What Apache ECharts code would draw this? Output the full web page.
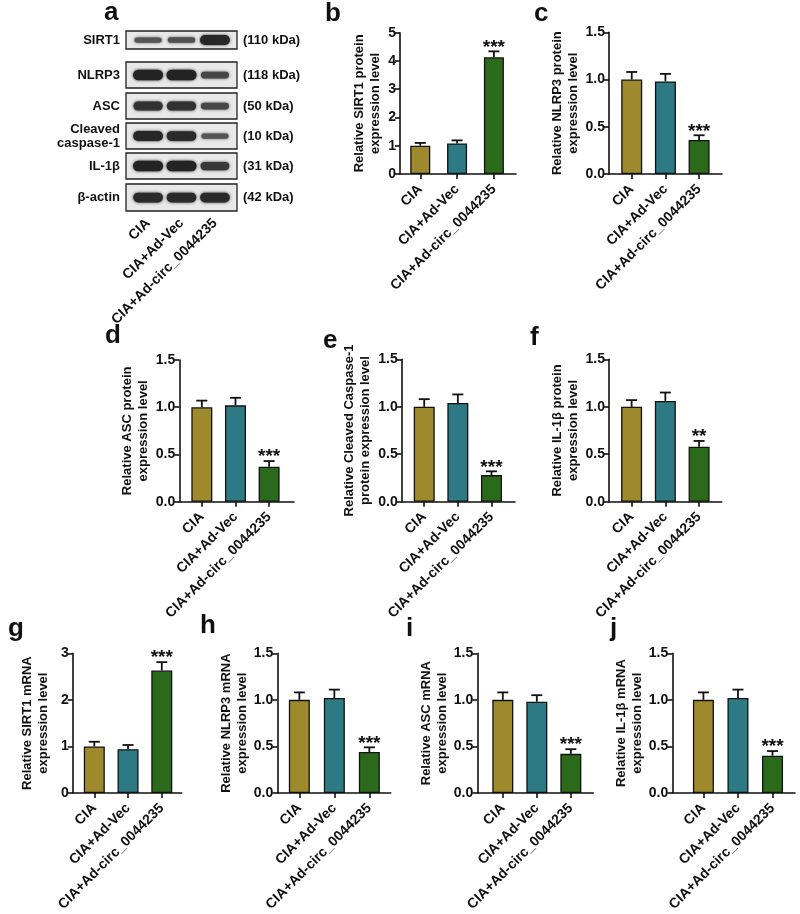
<!DOCTYPE html>
<html>
<head>
<meta charset="utf-8">
<script src="https://cdn.jsdelivr.net/npm/echarts@6/dist/echarts.min.js"></script>
<style>
html,body{margin:0;padding:0;background:#fff;}
#chart{width:800px;height:914px;}
</style>
</head>
<body>
<div id="chart"></div>
<script>
// ---------- data ----------
const groups = ['CIA', 'CIA+Ad-Vec', 'CIA+Ad-circ_0044235'];

// western blot (panel a)
const blotProteins = ['SIRT1', 'NLRP3', 'ASC', 'Cleaved\ncaspase-1', 'IL-1β', 'β-actin'];
const blotKda = ['(110 kDa)', '(118 kDa)', '(50 kDa)', '(10 kDa)', '(31 kDa)', '(42 kDa)'];
const bandSirt1 = [0.3, 0.35, 0.95];
const bandNlrp3 = [1.0, 1.0, 0.5];
const bandAsc = [0.8, 0.8, 0.5];
const bandCaspase1 = [0.95, 0.9, 0.3];
const bandIl1b = [1.0, 1.0, 0.7];
const bandActin = [0.9, 0.9, 0.9];

// protein levels (b-f)
const sirt1ProteinMean = [1.00, 1.08, 4.13];
const sirt1ProteinErr  = [0.10, 0.11, 0.21];
const nlrp3ProteinMean = [1.00, 0.98, 0.36];
const nlrp3ProteinErr  = [0.08, 0.08, 0.05];
const ascProteinMean   = [1.00, 1.02, 0.37];
const ascProteinErr    = [0.07, 0.08, 0.06];
const caspProteinMean  = [1.00, 1.04, 0.28];
const caspProteinErr   = [0.08, 0.09, 0.04];
const il1bProteinMean  = [1.00, 1.06, 0.58];
const il1bProteinErr   = [0.07, 0.09, 0.06];

// mRNA levels (g-j)
const sirt1MrnaMean = [1.00, 0.94, 2.63];
const sirt1MrnaErr  = [0.10, 0.09, 0.18];
const nlrp3MrnaMean = [1.00, 1.02, 0.44];
const nlrp3MrnaErr  = [0.08, 0.09, 0.05];
const ascMrnaMean   = [1.00, 0.98, 0.42];
const ascMrnaErr    = [0.08, 0.07, 0.05];
const il1bMrnaMean  = [1.00, 1.02, 0.40];
const il1bMrnaErr   = [0.08, 0.09, 0.05];

const sigB = ['', '', '***'];
const sigC = ['', '', '***'];
const sigD = ['', '', '***'];
const sigE = ['', '', '***'];
const sigF = ['', '', '**'];
const sigG = ['', '', '***'];
const sigH = ['', '', '***'];
const sigI = ['', '', '***'];
const sigJ = ['', '', '***'];

// ---------- styles / layout ----------
const FONT = '"Liberation Sans", Arial, Helvetica, sans-serif';
const barColors = ['#9e8a2c', '#2d7a84', '#2c6a1b'];
const INK = '#111';

const option = {
  animation: false,
  backgroundColor: '#fff',
  textStyle: { fontFamily: FONT },
  grid: [], xAxis: [], yAxis: [], series: [], graphic: []
};

function groupLabel(v) { return groups[Math.round(v)] || ''; }

// ---------- panel a: blot ----------
const blotBands = [bandSirt1, bandNlrp3, bandAsc, bandCaspase1, bandIl1b, bandActin];
const blotBoxes = [[31, 49], [62, 88], [93, 119], [123, 149], [153, 179], [184, 211]];
const blotLeft = 126, blotWidth = 111;

function bandRender(params, api) {
  const lane = api.value(0), inten = api.value(2);
  const p = api.coord([lane, 0]);
  const w = 26 + 4 * inten;
  const h = 3 + 7.5 * inten;
  const g = Math.round(105 - 70 * inten);
  const col = 'rgb(' + g + ',' + g + ',' + g + ')';
  return {
    type: 'rect',
    shape: { x: p[0] - w / 2, y: p[1] - h / 2, width: w, height: h, r: h / 2 },
    style: { fill: col, shadowBlur: 3, shadowColor: col }
  };
}

blotProteins.forEach(function (name, k) {
  const gi = option.grid.length;
  const last = k === blotProteins.length - 1;
  option.grid.push({
    left: blotLeft, top: blotBoxes[k][0], width: blotWidth,
    height: blotBoxes[k][1] - blotBoxes[k][0],
    show: true, backgroundColor: '#e8e8e8', borderColor: '#222', borderWidth: 1.3
  });
  const xi = option.xAxis.length;
  option.xAxis.push({
    type: 'value', gridIndex: gi, min: -0.66, max: 2.66,
    axisLine: { show: false }, axisTick: { show: false }, splitLine: { show: false },
    axisLabel: {
      show: last, customValues: [0, 1, 2], formatter: groupLabel, rotate: 45, margin: 10,
      fontSize: 14, fontWeight: 'bold', color: INK, fontFamily: FONT
    }
  });
  const yi = option.yAxis.length;
  option.yAxis.push({
    type: 'category', gridIndex: gi, data: [name],
    axisLine: { show: false }, axisTick: { show: false }, splitLine: { show: false },
    axisLabel: { fontSize: 13, fontWeight: 'bold', color: INK, margin: 6, lineHeight: 14, fontFamily: FONT }
  });
  option.yAxis.push({
    type: 'category', gridIndex: gi, data: [blotKda[k]], position: 'right',
    axisLine: { show: false }, axisTick: { show: false }, splitLine: { show: false },
    axisLabel: { fontSize: 13, fontWeight: 'bold', color: INK, margin: 6, fontFamily: FONT }
  });
  option.series.push({
    type: 'custom', xAxisIndex: xi, yAxisIndex: yi,
    data: blotBands[k].map(function (v, i) { return [i, 0, v]; }),
    encode: { x: 0, y: 1 },
    renderItem: bandRender, silent: true
  });
});

// ---------- bar panels ----------
function addBarPanel(L, axisName, means, errs, sigs) {
  const gi = option.grid.length;
  option.grid.push({ left: L.left, top: L.top, width: L.right - L.left, height: L.bottom - L.top });
  const xi = option.xAxis.length;
  option.xAxis.push({
    type: 'value', gridIndex: gi, min: L.xMin, max: L.xMax,
    axisLine: { show: true, onZero: false, lineStyle: { color: INK, width: 1.6 } },
    axisTick: { show: true, customValues: [0, 1, 2], length: 5, lineStyle: { color: INK, width: 1.6 } },
    splitLine: { show: false },
    axisLabel: {
      customValues: [0, 1, 2], formatter: groupLabel, rotate: 45, margin: 13,
      fontSize: 14, fontWeight: 'bold', color: INK, fontFamily: FONT
    }
  });
  const yi = option.yAxis.length;
  option.yAxis.push({
    type: 'value', gridIndex: gi, min: 0, max: L.yMax, interval: L.yInt,
    axisLine: { show: true, onZero: false, lineStyle: { color: INK, width: 1.6 } },
    axisTick: { show: true, length: 5, lineStyle: { color: INK, width: 1.6 } },
    splitLine: { show: false },
    axisLabel: {
      formatter: function (v) { return v.toFixed(L.dec); }, margin: 4,
      fontSize: 14, fontWeight: 'bold', color: INK, fontFamily: FONT
    },
    name: axisName, nameLocation: 'middle', nameGap: L.nameGap,
    nameTextStyle: { fontSize: 13, fontWeight: 'bold', lineHeight: 16, color: INK, fontFamily: FONT }
  });
  option.series.push({
    type: 'bar', xAxisIndex: xi, yAxisIndex: yi, barWidth: L.barWidth || 21,
    data: means.map(function (m, i) {
      return { value: [i, m], itemStyle: { color: barColors[i], borderColor: INK, borderWidth: 1.3 } };
    }),
    silent: true
  });
  option.series.push({
    type: 'custom', xAxisIndex: xi, yAxisIndex: yi, z: 5, silent: true,
    data: means.map(function (m, i) { return [i, m, errs[i]]; }),
    encode: { x: 0, y: 1 },
    renderItem: function (params, api) {
      const x = api.value(0), m = api.value(1), e = api.value(2);
      const b = api.coord([x, m]);
      const t = api.coord([x, m + e]);
      const children = [
        { type: 'line', shape: { x1: b[0], y1: b[1], x2: t[0], y2: t[1] }, style: { stroke: INK, lineWidth: 1.8 } },
        { type: 'line', shape: { x1: t[0] - 5.5, y1: t[1], x2: t[0] + 5.5, y2: t[1] }, style: { stroke: INK, lineWidth: 1.8 } }
      ];
      const s = sigs[params.dataIndex];
      if (s) {
        children.push({
          type: 'text', x: t[0], y: t[1] - 4,
          style: { text: s, font: 'bold 19px ' + FONT, fill: INK, align: 'center', verticalAlign: 'middle' }
        });
      }
      return { type: 'group', children: children };
    }
  });
}

const P15 = { yMax: 1.5, yInt: 0.5, dec: 1 };
function lay(o, base) { return Object.assign({}, base, o); }

addBarPanel(lay({ left: 400, right: 516, top: 32.7, bottom: 174, xMin: -0.55, xMax: 2.6, yMax: 5, yInt: 1, dec: 0, nameGap: 17, barWidth: 20 }, {}),
  'Relative SIRT1 protein\nexpression level', sirt1ProteinMean, sirt1ProteinErr, sigB);
addBarPanel(lay({ left: 609, right: 722, top: 32.3, bottom: 174, xMin: -0.675, xMax: 2.68, nameGap: 28 }, P15),
  'Relative NLRP3 protein\nexpression level', nlrp3ProteinMean, nlrp3ProteinErr, sigC);
addBarPanel(lay({ left: 179.3, right: 294, top: 360, bottom: 501.7, xMin: -0.67, xMax: 2.74, nameGap: 28 }, P15),
  'Relative ASC protein\nexpression level', ascProteinMean, ascProteinErr, sigD);
addBarPanel(lay({ left: 401.7, right: 515, top: 359.3, bottom: 501.7, xMin: -0.67, xMax: 2.70, nameGap: 28 }, P15),
  'Relative Cleaved Caspase-1\nprotein expression level', caspProteinMean, caspProteinErr, sigE);
addBarPanel(lay({ left: 609, right: 721.7, top: 359.3, bottom: 501.7, xMin: -0.67, xMax: 2.67, nameGap: 28 }, P15),
  'Relative IL-1β protein\nexpression level', il1bProteinMean, il1bProteinErr, sigF);
addBarPanel(lay({ left: 72.7, right: 181.7, top: 653.3, bottom: 795, xMin: -0.64, xMax: 2.59, yMax: 3, yInt: 1, dec: 0, nameGap: 21 }, {}),
  'Relative SIRT1 mRNA\nexpression level', sirt1MrnaMean, sirt1MrnaErr, sigG);
addBarPanel(lay({ left: 277.3, right: 390.7, top: 653.3, bottom: 795.5, xMin: -0.63, xMax: 2.61, nameGap: 27 }, P15),
  'Relative NLRP3 mRNA\nexpression level', nlrp3MrnaMean, nlrp3MrnaErr, sigH);
addBarPanel(lay({ left: 477.3, right: 593.3, top: 653.3, bottom: 795.5, xMin: -0.75, xMax: 2.66, nameGap: 23 }, P15),
  'Relative ASC mRNA\nexpression level', ascMrnaMean, ascMrnaErr, sigI);
addBarPanel(lay({ left: 672.3, right: 795, top: 653.3, bottom: 795.5, xMin: -0.9, xMax: 2.65, nameGap: 19 }, P15),
  'Relative IL-1β mRNA\nexpression level', il1bMrnaMean, il1bMrnaErr, sigJ);

// ---------- panel letters ----------
const letters = [
  ['a', 104, 0], ['b', 325, 1], ['c', 534, 1],
  ['d', 105, 323], ['e', 323, 328], ['f', 530, 325],
  ['g', 8, 616], ['h', 200, 613], ['i', 406, 616], ['j', 610, 616]
];
letters.forEach(function (l) {
  option.graphic.push({ type: 'text', left: l[1], top: l[2], style: { text: l[0], font: 'bold 26px ' + FONT, fill: INK } });
});

const chart = echarts.init(document.getElementById('chart'), null, { renderer: 'canvas', width: 800, height: 914 });
chart.setOption(option);
</script>
</body>
</html>
